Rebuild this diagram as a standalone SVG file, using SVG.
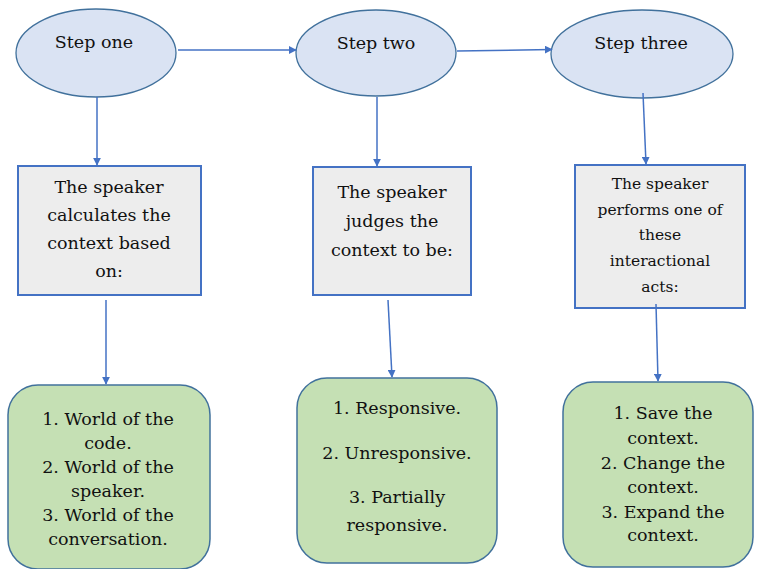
<svg xmlns="http://www.w3.org/2000/svg" width="757" height="569" viewBox="0 0 757 569">
<style>
.ell{fill:#dae3f3;stroke:#41719c;stroke-width:1.3}
.box{fill:#ededed;stroke:#4472c4;stroke-width:2}
.grn{fill:#c5e0b4;stroke:#41719c;stroke-width:1.5}
.c line{stroke:#4472c4;stroke-width:1.5;fill:none;marker-end:url(#ah)}
</style>
<defs>
<marker id="ah" viewBox="0 0 10 10" refX="9" refY="5" markerWidth="8" markerHeight="8" markerUnits="userSpaceOnUse" orient="auto"><path d="M0,0 L10,5 L0,10 z" fill="#4472c4"/></marker>
</defs>
<rect width="757" height="569" fill="#fff"/>
<g id="step1"><ellipse class="ell" cx="96" cy="53" rx="80" ry="44"/><text font-family="DejaVu Serif" font-size="17.5" fill="#111" text-anchor="middle" x="94" y="48">Step one</text></g>
<g id="step2"><ellipse class="ell" cx="376" cy="53" rx="80" ry="43"/><text font-family="DejaVu Serif" font-size="17.5" fill="#111" text-anchor="middle" x="376" y="49">Step two</text></g>
<g id="step3"><ellipse class="ell" cx="642" cy="54" rx="91" ry="44"/><text font-family="DejaVu Serif" font-size="17.5" fill="#111" text-anchor="middle" x="641" y="49">Step three</text></g>
<g id="box1"><rect class="box" x="18" y="166" width="183" height="129"/>
<text font-family="DejaVu Serif" font-size="17.5" fill="#111" text-anchor="middle" x="109"><tspan x="109" y="193">The speaker</tspan><tspan x="109" y="221">calculates the</tspan><tspan x="109" y="249">context based</tspan><tspan x="109" y="277">on:</tspan></text></g>
<g id="box2"><rect class="box" x="313" y="167" width="158" height="128"/>
<text font-family="DejaVu Serif" font-size="17.5" fill="#111" text-anchor="middle" x="392"><tspan x="392" y="198">The speaker</tspan><tspan x="392" y="227">judges the</tspan><tspan x="392" y="256">context to be:</tspan></text></g>
<g id="box3"><rect class="box" x="575" y="165" width="170" height="143"/>
<text font-family="DejaVu Serif" font-size="15.5" fill="#111" text-anchor="middle" x="660"><tspan x="660" y="189">The speaker</tspan><tspan x="660" y="215">performs one of</tspan><tspan x="660" y="240">these</tspan><tspan x="660" y="266">interactional</tspan><tspan x="660" y="292">acts:</tspan></text></g>
<g id="res1"><rect class="grn" x="8" y="385" width="202" height="184" rx="30"/>
<text font-family="DejaVu Serif" font-size="17.5" fill="#111" text-anchor="middle" x="108"><tspan x="108" y="425">1. World of the</tspan><tspan x="108" y="449">code.</tspan><tspan x="108" y="473">2. World of the</tspan><tspan x="108" y="497">speaker.</tspan><tspan x="108" y="521">3. World of the</tspan><tspan x="108" y="545">conversation.</tspan></text></g>
<g id="res2"><rect class="grn" x="297" y="378" width="200" height="185" rx="30"/>
<text font-family="DejaVu Serif" font-size="17.5" fill="#111" text-anchor="middle" x="397"><tspan x="397" y="414">1. Responsive.</tspan><tspan x="397" y="459">2. Unresponsive.</tspan><tspan x="397" y="503">3. Partially</tspan><tspan x="397" y="531">responsive.</tspan></text></g>
<g id="res3"><rect class="grn" x="563" y="382" width="190" height="185" rx="30"/>
<text font-family="DejaVu Serif" font-size="17.5" fill="#111" text-anchor="middle" x="663"><tspan x="663" y="419">1. Save the</tspan><tspan x="663" y="444">context.</tspan><tspan x="663" y="469">2. Change the</tspan><tspan x="663" y="493">context.</tspan><tspan x="663" y="518">3. Expand the</tspan><tspan x="663" y="541">context.</tspan></text></g>
<g id="connectors" class="c">
<line x1="178" y1="50" x2="296" y2="50"/>
<line x1="457" y1="51" x2="552" y2="49.5"/>
<line x1="97" y1="97" x2="97" y2="165"/>
<line x1="377" y1="97" x2="377" y2="166"/>
<line x1="643" y1="93" x2="646" y2="164"/>
<line x1="106" y1="300" x2="106" y2="384"/>
<line x1="388" y1="300" x2="392" y2="377"/>
<line x1="656" y1="304" x2="658" y2="381"/>
</g>
</svg>
